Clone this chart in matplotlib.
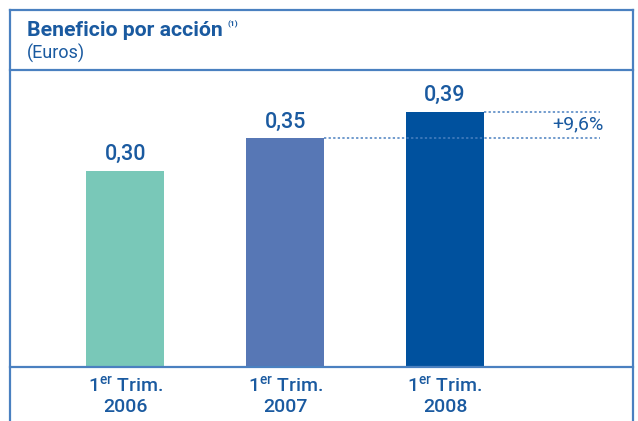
import numpy as np
import matplotlib.pyplot as plt
from matplotlib.lines import Line2D

# données du graphique
categories = ['1$^{\\mathrm{er}}$ Trim.\n2006', '1$^{\\mathrm{er}}$ Trim.\n2007', '1$^{\\mathrm{er}}$ Trim.\n2008']
valeurs = [0.30, 0.35, 0.39]
etiquettes = ['0,30', '0,35', '0,39']
variation = '+9,6%'
couleurs = ['#79C8B8', '#5777B5', '#00519E']

bleu_texte = '#1A5AA0'
bleu_cadre = '#4A80C0'

plt.rcParams['font.family'] = ['Roboto', 'DejaVu Sans']
plt.rcParams['mathtext.fontset'] = 'custom'
plt.rcParams['mathtext.rm'] = 'Roboto:weight=medium'

W, H = 638, 421
fig = plt.figure(figsize=(W / 100, H / 100), dpi=100)

# axes en pixels : gauche 10, droite 633, base 367, haut 70
px = 159.75
ax = fig.add_axes([10 / W, (H - 367) / H, 623 / W, 297 / H])
ax.set_xlim((10 - 125.5) / px, (633 - 125.5) / px)
ax.set_ylim(0, 297 / 655)
ax.axis('off')

x = np.arange(len(valeurs))
ax.bar(x, valeurs, width=78 / px, color=couleurs, zorder=2)
for xi, v, lab in zip(x, valeurs, etiquettes):
    ax.text(xi, v + 0.008, lab, ha='center', va='bottom', fontsize=15.5,
            fontweight='medium', color=bleu_texte)

# lignes pointillées de comparaison
x_fin = (600 - 125.5) / px
ax.plot([x[1] + 39 / px, x_fin], [valeurs[1], valeurs[1]], ls=(0, (1.5, 1.5)),
        lw=1.1, color=bleu_cadre)
ax.plot([x[2] + 39 / px, x_fin], [valeurs[2], valeurs[2]], ls=(0, (1.5, 1.5)),
        lw=1.1, color=bleu_cadre)
ax.text(x_fin + 0.02, (valeurs[1] + valeurs[2]) / 2, variation, ha='right', va='center',
        fontsize=14, color=bleu_texte)

# étiquettes des catégories
for xi, cat in zip(x, categories):
    ax.text(xi, -0.014, cat, ha='center', va='top', fontsize=14,
            fontweight='medium', color=bleu_texte, linespacing=1.15)

# cadre
def ligne(x0, y0, x1, y1):
    fig.add_artist(Line2D([x0 / W, x1 / W], [1 - y0 / H, 1 - y1 / H],
                          color=bleu_cadre, lw=1.6))

ligne(10, 10, 633, 10)
ligne(10, 10, 10, 421)
ligne(633, 10, 633, 421)
ligne(10, 70, 633, 70)
ligne(10, 367, 633, 367)

fig.text(27 / W, 1 - 30 / H, 'Beneficio por acción', fontsize=15.3, fontweight='bold',
         color=bleu_texte, va='center')
fig.text(227 / W, 1 - 24 / H, '(1)', fontsize=6, fontweight='bold',
         color=bleu_texte, va='center')
fig.text(27 / W, 1 - 53 / H, '(Euros)', fontsize=13,
         color=bleu_texte, va='center')

fig.savefig('out.png', dpi=100)
